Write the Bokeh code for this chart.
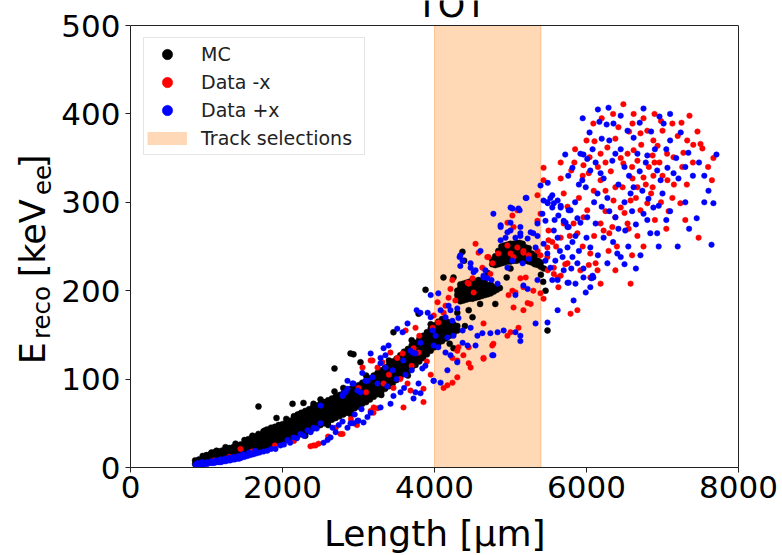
import math
from bokeh.plotting import figure
from bokeh.layouts import row, column
from bokeh.models import (Range1d, FixedTicker, BoxAnnotation, Label, Legend, LegendItem,
                          ColumnDataSource, LinearAxis, Span)
from bokeh.embed import file_html
from bokeh.resources import INLINE

# ---------------- data ----------------
series_names = ["MC", "Data -x", "Data +x"]
band_label = "Track selections"
band_left, band_right = 4000, 5400
x_ticks = [0, 2000, 4000, 6000, 8000]
y_ticks = [0, 100, 200, 300, 400, 500]
x_title = "Length [\u00b5m]"
plot_title = "TOT"
y_title_parts = ["E", "reco", "[keV", "ee", "]"]   # normal, subscript, normal, subscript, normal

# MC: dense band, read column by column (length, [energies])
mc_columns = [
    (850, [4, 8]), (900, [5, 9]), (950, [6, 10, 13]), (1000, [7, 11, 14]), (1050, [8, 12, 15]),
    (1100, [9, 13, 17]), (1150, [10, 14, 18]), (1200, [11, 15, 19]), (1250, [12, 16, 20]),
    (1300, [13, 17, 22]), (1350, [14, 18, 23]), (1400, [15, 20, 25]), (1450, [16, 21, 26]),
    (1500, [17, 22, 27]), (1550, [18, 23, 28, 32]), (1600, [19, 24, 29, 34]), (1650, [20, 25, 30, 35]),
    (1700, [21, 26, 31, 36]), (1750, [22, 27, 32, 37, 41]), (1800, [24, 29, 34, 39, 43]),
    (1850, [25, 30, 35, 40, 45]), (1900, [26, 31, 36, 41, 46]), (1950, [28, 33, 38, 43, 48]),
    (2000, [29, 34, 39, 44, 49]), (2050, [31, 36, 41, 46, 51]), (2100, [33, 38, 43, 48, 53]),
    (2150, [34, 39, 44, 49, 54, 58]), (2200, [36, 41, 46, 51, 56, 60]), (2250, [38, 43, 48, 53, 58, 62]),
    (2300, [40, 45, 50, 55, 60, 64]), (2350, [42, 47, 52, 57, 62, 66]), (2400, [44, 49, 54, 59, 64, 68]),
    (2450, [46, 51, 56, 61, 66, 70]), (2500, [48, 53, 58, 63, 68, 72]), (2550, [50, 55, 60, 65, 70, 74]),
    (2600, [52, 57, 62, 67, 72, 76]), (2650, [54, 59, 64, 69, 74, 78]), (2700, [56, 61, 66, 71, 76, 80]),
    (2750, [58, 63, 68, 73, 78, 82]), (2800, [60, 65, 70, 75, 80, 84]), (2850, [62, 67, 72, 77, 82, 87]),
    (2900, [64, 69, 74, 79, 84, 89]), (2950, [67, 72, 77, 82, 87, 91]), (3000, [69, 74, 79, 84, 89, 93]),
    (3050, [72, 77, 82, 87, 92, 96]), (3100, [74, 79, 84, 89, 94, 98]), (3150, [77, 82, 87, 92, 97, 101]),
    (3200, [80, 85, 90, 95, 100, 104]), (3250, [83, 88, 93, 98, 103, 107]),
    (3300, [86, 91, 96, 101, 106, 110]), (3350, [89, 94, 99, 104, 109, 113]),
    (3400, [92, 97, 102, 107, 112, 116]), (3450, [95, 100, 105, 110, 115, 120]),
    (3500, [99, 104, 109, 114, 119, 123]), (3550, [102, 107, 112, 117, 122, 127]),
    (3600, [106, 111, 116, 121, 126, 131]), (3650, [109, 114, 119, 124, 129, 134]),
    (3700, [113, 118, 123, 128, 133, 138]), (3750, [116, 121, 126, 131, 136, 141]),
    (3800, [120, 125, 130, 135, 140, 145]), (3850, [124, 129, 134, 139, 144, 149]),
    (3900, [128, 133, 138, 143, 148, 153]), (3950, [132, 137, 142, 147, 152, 157]),
    (4000, [136, 141, 146, 151, 156, 161]), (4050, [140, 145, 150, 155, 160, 165]),
    (4100, [143, 148, 153, 158, 163, 168]), (4150, [146, 151, 156, 161, 166]),
    (4200, [149, 154, 159, 164]), (4250, [152, 157, 162]), (4300, [155, 160]),
    (4300, [190, 195, 200]), (4340, [188, 193, 198, 203, 207]), (4380, [189, 194, 199, 204, 208]),
    (4420, [190, 195, 200, 205, 209]), (4460, [191, 196, 201, 206, 210]), (4500, [191, 196, 201, 206, 211]),
    (4540, [192, 197, 202, 207, 211]), (4580, [193, 198, 203, 208, 212]), (4620, [194, 199, 204, 209]),
    (4660, [195, 200, 205, 210]), (4700, [196, 201, 206]), (4740, [197, 202, 207]), (4780, [199, 204]),
    (4820, [201]), (4860, [203]),
    (4760, [230, 235]), (4800, [229, 234, 239]), (4840, [230, 235, 240, 245]),
    (4880, [231, 236, 241, 246, 250]), (4920, [232, 237, 242, 247, 251]), (4960, [233, 238, 243, 248, 252]),
    (5000, [233, 238, 243, 248, 253]), (5040, [234, 239, 244, 249, 253]), (5080, [234, 239, 244, 249, 254]),
    (5120, [235, 240, 245, 250, 254]), (5160, [234, 239, 244, 249, 253]), (5200, [234, 239, 244, 249]),
    (5240, [233, 238, 243, 248]), (5280, [232, 237, 242]), (5320, [230, 235, 240]), (5360, [229, 234]),
    (5400, [227, 232]), (5440, [225]),
]
# MC points lying off the main band
mc_outliers = [
    (1684, 69), (1921, 56), (2132, 72), (2276, 73), (2408, 72), (2684, 112), (2895, 129), (2934, 128),
    (3026, 119), (2684, 86), (2197, 59), (2237, 61), (1605, 36), (1684, 38), (1776, 42), (3460, 153),
    (4368, 244), (4390, 234), (4118, 215), (4250, 215), (3882, 201), (3790, 174), (5487, 155), (5461, 200),
    (5430, 210), (5400, 218), (4800, 185), (4950, 215), (5000, 225), (4300, 175), (4450, 178), (4600, 185),
    (4200, 140), (4400, 160), (4500, 170), (4700, 220), (4250, 135), (1066, 17), (1132, 19), (1382, 27),
    (1250, 23), (1500, 31), (2050, 55), (2500, 77), (2800, 90), (3100, 104), (3400, 121), (3700, 144),
    (3950, 162), (2300, 36), (2600, 48), (2900, 60), (3300, 82), (3650, 104),
]

minus_pts = [
    (1447, 21), (2408, 25), (2474, 27), (2434, 25), (2368, 24), (2763, 38), (2790, 38), (1100, 8),
    (1300, 12), (1600, 18), (1900, 25), (2150, 30), (2600, 35), (2700, 45), (2900, 55), (2980, 48),
    (3197, 62), (3250, 67), (3592, 68), (3855, 74), (3855, 89), (4170, 93), (4237, 96), (3184, 121),
    (3160, 64), (3200, 68), (3053, 113), (3315, 119), (3250, 113), (3160, 121), (3420, 130), (3510, 124),
    (3580, 129), (3725, 135), (3790, 130), (3620, 155), (3750, 158), (3800, 149), (3975, 158), (4050, 164),
    (3990, 172), (4120, 175), (4040, 187), (4145, 183), (4185, 192), (4275, 189), (3645, 95), (3685, 87),
    (3460, 90), (3330, 95), (3100, 85), (3000, 90), (3400, 105), (3550, 100), (3700, 115), (3900, 120),
    (3950, 105),
    (4120, 90), (4300, 102), (4450, 118), (4645, 123), (4450, 136), (4300, 132), (4645, 163), (4775, 140),
    (4960, 149), (5040, 181), (5265, 185), (5395, 197), (5570, 226), (5750, 231), (5880, 178), (5790, 174),
    (6050, 215), (4540, 253), (4580, 243), (4710, 238), (4840, 242), (4960, 251), (5040, 238), (5170, 243),
    (4630, 226), (4735, 219), (4435, 209), (4500, 214), (4315, 136), (4235, 124), (4300, 121), (4380, 127),
    (4475, 113), (4645, 124), (4760, 138), (5000, 153), (5105, 158), (5170, 178), (5065, 198), (5170, 204),
    (5200, 215), (5225, 186), (5355, 308), (4695, 238), (4765, 231), (5000, 242), (5090, 249), (5170, 245),
    (5395, 240), (5490, 223), (5570, 219), (5660, 217), (4450, 208), (4515, 198), (4235, 212), (4210, 202),
    (5025, 200), (4975, 195), (5435, 191), (5500, 257), (5300, 200), (5130, 214),
    (6485, 411), (6620, 400), (6895, 400), (7355, 398), (7130, 389), (7000, 381), (6090, 389), (6105, 369),
    (6420, 385), (6605, 389), (6710, 378), (6800, 381), (6880, 370), (6935, 364), (7325, 370), (7405, 365),
    (7500, 366), (7525, 361), (7670, 350), (7145, 351), (7275, 356), (6870, 353), (6895, 345), (6620, 359),
    (6670, 347), (6540, 355), (6485, 344), (6275, 362), (6185, 355), (6040, 351), (5960, 342), (5840, 345),
    (5800, 336), (5660, 345), (5660, 327), (5435, 339), (6030, 333), (6185, 325), (6095, 313), (6250, 313),
    (6380, 317), (6475, 317), (6605, 327), (6750, 328), (6880, 330), (6870, 317), (6670, 317), (6580, 302),
    (7130, 305), (7235, 299), (7065, 325), (6800, 299), (6710, 291), (6355, 302), (6450, 294), (6380, 283),
    (6340, 272), (6540, 276), (6555, 270), (6670, 262), (6185, 276), (6225, 268), (5960, 283), (6010, 291),
    (5830, 276), (5880, 265), (5700, 276), (5660, 260), (5500, 268), (5550, 255), (5395, 287), (5355, 279),
    (5485, 249), (5485, 238), (5620, 215), (5630, 204), (5920, 223), (6030, 229), (6120, 231), (6145, 223),
    (6380, 223), (6185, 208), (6580, 208), (6290, 245), (6050, 242), (7475, 260), (4960, 277), (5040, 272),
    (5025, 285), (5090, 291), (5355, 245), (5240, 240), (5435, 325),
    (5700, 310), (5750, 295), (5900, 305), (5950, 330), (6000, 370), (6150, 340), (6250, 345), (6320, 335),
    (6380, 372), (6450, 350), (6560, 380), (6600, 340), (6720, 365), (6780, 320), (6820, 340), (6960, 345),
    (7000, 330), (7060, 355), (7150, 320), (7200, 375), (7260, 340), (7320, 320), (7400, 345), (7460, 380),
    (7600, 340), (7650, 325), (6900, 280), (6980, 300), (7080, 290), (6650, 305), (6500, 288), (6300, 265),
    (6100, 262), (5950, 250), (5780, 262), (5600, 250), (5720, 230), (6250, 290), (6400, 250), (6600, 240),
    (6750, 250), (6850, 310), (7050, 270), (7300, 280), (6200, 395), (6350, 400), (6750, 395), (6980, 392),
    (7250, 390), (5850, 360),
]

plus_pts = [
    (855, 3), (890, 3), (920, 4), (950, 3), (980, 4), (1010, 4), (1040, 5), (1070, 5), (1100, 5),
    (1130, 6), (1160, 6), (1190, 6), (1220, 7), (1250, 7), (1280, 8), (1310, 8), (1340, 9), (1370, 9),
    (1400, 10), (1430, 10), (1460, 11), (1500, 12), (1540, 13), (1580, 14), (1620, 15), (1660, 16),
    (1700, 17), (1750, 18), (880, 5), (940, 6), (1000, 6), (1060, 7), (1120, 8), (1180, 9), (1240, 10),
    (1300, 11), (1360, 12), (1420, 13), (1480, 15), (1560, 17), (1640, 19),
    (1800, 19), (1850, 21), (1908, 21), (1974, 25), (2020, 26), (2066, 31), (2100, 28), (2145, 34),
    (2190, 33), (2237, 38), (2280, 36), (2329, 42), (2370, 40), (2408, 45), (2450, 44), (2500, 50),
    (2540, 28), (2592, 31), (2632, 34), (2658, 45), (2700, 40), (2740, 48), (2790, 52),
    (2803, 84), (2855, 89), (2934, 95), (3026, 85), (3092, 98), (3184, 102), (2855, 45), (2895, 50),
    (2934, 50), (2987, 53), (3000, 53), (3066, 51), (3118, 57), (2790, 81), (2829, 85), (2500, 70),
    (2855, 98), (2920, 95), (2985, 87), (3120, 98), (3050, 107), (2950, 60), (3040, 66), (3160, 62),
    (3290, 68), (3421, 72), (3460, 81), (3553, 85), (3724, 78), (3816, 84), (3987, 98), (3290, 118),
    (3355, 113), (3590, 121), (3685, 132), (3750, 129), (3790, 95), (3750, 85), (3990, 98), (4080, 96),
    (3840, 112), (3880, 115), (3580, 153), (3645, 163), (3510, 157), (3815, 141), (3990, 138), (4050, 136),
    (3710, 130), (3330, 135), (3395, 138), (3290, 124), (3355, 127), (3160, 129), (3975, 155), (4015, 149),
    (3950, 170), (3910, 175), (3815, 175), (3765, 178), (3250, 95), (3380, 92), (3500, 100), (3620, 105),
    (3700, 110), (3600, 90), (3450, 110),
    (4170, 110), (4300, 119), (4775, 127), (5130, 143), (5330, 163), (5487, 164), (5620, 178), (5830, 189),
    (5990, 198), (6050, 204), (6090, 215), (5960, 225), (5750, 209), (5620, 212), (4340, 240), (4370, 234),
    (4340, 228), (4475, 226), (4540, 223), (4645, 217), (4695, 214), (4870, 274), (5000, 268), (5130, 262),
    (4935, 260), (5025, 234), (4960, 226), (4185, 183), (4210, 178), (4300, 180), (4080, 178), (4145, 170),
    (4170, 147), (4250, 149), (4370, 155), (4475, 158), (4565, 149), (4630, 152), (4370, 141), (4435, 138),
    (4540, 138), (4735, 152), (4830, 153), (4910, 155), (5065, 153), (5130, 149), (4760, 127), (4235, 166),
    (4315, 169), (4145, 130), (4210, 127), (5210, 305), (4775, 287), (5025, 293), (5120, 291), (4870, 272),
    (4960, 266), (5000, 277), (4870, 257), (5130, 265), (5225, 259), (5330, 249), (5265, 266), (5355, 262),
    (4605, 245), (4330, 238), (4475, 231), (4515, 221), (4670, 223), (4645, 215), (4750, 212), (4830, 208),
    (5160, 231), (5240, 236), (5460, 234), (5550, 212), (5700, 223), (5815, 238), (5225, 202), (5170, 206),
    (5065, 195), (5355, 212), (3950, 195), (4050, 197), (5490, 299), (5550, 294), (5660, 296), (5765, 291),
    (5420, 287), (5460, 279), (5700, 279), (5750, 272), (5855, 262), (5815, 255), (5490, 322), (5395, 319),
    (5550, 308), (5620, 302),
    (6290, 407), (6750, 406), (6170, 391), (6040, 379), (6265, 388), (6355, 389), (6540, 381), (6620, 373),
    (6960, 397), (7015, 389), (7240, 379), (7710, 354), (7340, 356), (7605, 313), (7670, 299), (7550, 300),
    (7450, 282), (7645, 252), (5720, 354), (5920, 355), (5960, 354), (5815, 339), (5760, 330), (6010, 349),
    (6050, 336), (5945, 325), (5990, 317), (6185, 333), (6225, 327), (6145, 310), (6275, 305), (6340, 347),
    (6380, 355), (6670, 355), (6800, 353), (6930, 336), (7065, 339), (7145, 333), (7210, 327), (6975, 325),
    (6735, 313), (6815, 304), (6880, 294), (6950, 296), (6750, 287), (6840, 265), (6930, 265), (6710, 240),
    (6405, 242), (6450, 238), (6275, 231), (6050, 249), (5880, 231), (5750, 249), (5685, 238), (5525, 226),
    (5590, 234), (5765, 209), (5855, 208), (5960, 215), (6080, 217), (6065, 214), (5435, 302), (5485, 300),
    (5525, 305), (5570, 299), (5200, 305), (5660, 294), (5630, 285), (5790, 291), (5880, 282), (5920, 277),
    (5725, 277), (5765, 272), (5570, 268), (5620, 260), (6010, 283), (6120, 276), (6225, 260), (6420, 270),
    (6510, 268), (6380, 283), (6580, 310), (6620, 317), (5355, 276), (5300, 265), (5065, 260), (5130, 272),
    (5000, 294), (5105, 293), (5435, 253), (5485, 242),
    (5850, 300), (5900, 320), (6080, 360), (6120, 345), (6200, 372), (6300, 370), (6450, 360), (6500, 340),
    (6560, 330), (6700, 335), (6780, 345), (6850, 380), (6900, 360), (7050, 360), (7100, 370), (7180, 350),
    (7300, 340), (7400, 330), (7480, 345), (7550, 330), (6600, 290), (6650, 275), (6500, 300), (6420, 320),
    (6300, 290), (6200, 295), (6100, 300), (6000, 260), (5900, 245), (5800, 225), (5650, 245), (5580, 280),
    (6150, 240), (6350, 255), (6550, 250), (6650, 225), (6800, 280), (7000, 310), (7100, 290), (7300, 300),
    (7350, 270), (7200, 250), (7050, 280), (6950, 250), (6500, 230), (5950, 395), (6150, 405), (6450, 398),
    (6700, 390), (7100, 400),
]

mc_pts = [(cx, cy) for cx, ys in mc_columns for cy in ys] + mc_outliers
series_pts = [mc_pts, minus_pts, plus_pts]
series_colors = ["black", "red", "blue"]
series_sizes = [6, 5.5, 5.5]

# ---------------- layout (pixels of the 782 x 555 page) ----------------
X0, X1, Y0, Y1 = x_ticks[0], x_ticks[-1], y_ticks[0], y_ticks[-1]
LEFT_W, BOT_H = 57, 38
FL, FT, FW, FH = 130, 25, 608, 442     # axes box on the page
MAIN_L = FL - LEFT_W
MAIN_R = 782 - FL - FW
MAIN_B = 555 - BOT_H - (FT + FH)
FONT = "DejaVu Sans"
SHIFT = 0.31                           # measured offset of Label text (in em) to undo
Y_TOP = Y1 + (Y1 - Y0) * FT / FH       # frame reaches the top of the page; spine drawn at Y1


def px2x(px):
    return X0 + (px - FL) * (X1 - X0) / FW


def py2y(py):
    return Y0 + (FT + FH - py) * (Y1 - Y0) / FH


def strip(w, h):
    f = figure(width=w, height=h, x_range=Range1d(0, w), y_range=Range1d(0, h),
               output_backend="svg", toolbar_location=None, min_border=0,
               x_axis_type=None, y_axis_type=None)
    f.outline_line_color = None
    f.background_fill_color = "white"
    f.border_fill_color = "white"
    return f


p = figure(frame_width=FW, frame_height=FT + FH, x_range=Range1d(X0, X1), y_range=Range1d(Y0, Y_TOP),
           output_backend="svg", toolbar_location=None,
           min_border_left=MAIN_L, min_border_right=MAIN_R,
           min_border_top=0, min_border_bottom=MAIN_B)
p.background_fill_color = "white"
p.border_fill_color = "white"
p.outline_line_color = None
p.xgrid.visible = False
p.ygrid.visible = False

right_spine = LinearAxis(ticker=FixedTicker(ticks=[]), bounds=(Y0, Y1))
p.add_layout(right_spine, "right")

for ax, ticks in ((p.xaxis[0], x_ticks), (p.yaxis[0], y_ticks)):
    ax.ticker = FixedTicker(ticks=ticks)
    ax.major_label_text_font = FONT
    ax.major_label_text_font_size = "31px"
    ax.major_label_text_color = "black"
    ax.major_tick_out = 5
    ax.major_tick_in = 0
for ax in (p.xaxis[0], p.yaxis[0], right_spine):
    ax.axis_line_color = "#222222"
    ax.major_tick_line_color = "#222222"
    ax.minor_tick_out = 0
    ax.minor_tick_in = 0
right_spine.major_tick_out = 0
p.yaxis[0].bounds = (Y0, Y1)
p.xaxis.major_label_standoff = 3
p.yaxis[0].major_label_standoff = 5
p.add_layout(Span(location=Y1, dimension="width", line_color="#222222", line_width=1))

band = BoxAnnotation(left=band_left, right=band_right, bottom=Y0, top=Y1, fill_color="#ff7f0e",
                     fill_alpha=0.3, line_color="#ff7f0e", line_alpha=0.35, line_width=1,
                     level="underlay")
p.add_layout(band)

renderers = []
for pts, col, sz in zip(series_pts, series_colors, series_sizes):
    src = ColumnDataSource(dict(x=[q[0] for q in pts], y=[q[1] for q in pts]))
    r = p.scatter("x", "y", source=src, size=sz, fill_color=col, line_color=col, line_width=0.5)
    renderers.append(r)

# invisible stand-in (NaN height) so that the band gets a swatch in the legend
band_proxy = p.line(x=[band_left, band_right], y=[float("nan"), float("nan")],
                    line_width=13, line_color="#ffd9b7", line_cap="butt")

items = [LegendItem(label=n, renderers=[r]) for n, r in zip(series_names, renderers)]
items.append(LegendItem(label=band_label, renderers=[band_proxy]))
LEG_PAD, LEG_ROW, LEG_SP = 3, 26, 2
leg_h = 2 * LEG_PAD + len(items) * LEG_ROW + (len(items) - 1) * LEG_SP
legend = Legend(items=items, location=(143 - FL, (FT + FH) - 39 - leg_h), padding=LEG_PAD,
                spacing=LEG_SP, glyph_height=LEG_ROW, glyph_width=40, label_height=LEG_ROW,
                label_width=160, label_standoff=14, label_text_font=FONT,
                label_text_font_size="19px", label_text_color="#222222",
                border_line_color="#cccccc", border_line_width=1, background_fill_alpha=0.8)
p.add_layout(legend)

# title, inside the (taller) frame and cut by the top of the page as in the picture
sh = SHIFT * 35
p.add_layout(Label(x=px2x(451), y=py2y(15 - sh), text=plot_title, text_align="center",
                   text_baseline="alphabetic", text_font=FONT, text_font_size="35px",
                   text_color="black"))

# ---- x axis title strip
bot = strip(782 - LEFT_W, BOT_H)
sh = SHIFT * 36
bot.add_layout(Label(x=431 - LEFT_W - sh, y=555 - 544 + sh, text=x_title, text_align="center",
                     text_baseline="alphabetic", text_font=FONT, text_font_size="36px",
                     text_color="black"))

# ---- y axis title strip (rotated; subscripts as smaller, shifted text)
left = strip(LEFT_W, 555)
y_part_pos = [(43, 353, 35), (49, 331, 24.5), (43, 266, 35), (49, 187, 24.5), (43, 157, 35)]
for txt, (bx, by, fs) in zip(y_title_parts, y_part_pos):
    sh = SHIFT * fs
    left.add_layout(Label(x=bx - sh, y=555 - by - sh, text=txt, angle=math.pi / 2,
                          text_align="left", text_baseline="alphabetic", text_font=FONT,
                          text_font_size=f"{fs}px", text_color="black"))

layout = row(left, column(p, bot, spacing=0), spacing=0)
open("out.html", "w").write(file_html(layout, INLINE))
